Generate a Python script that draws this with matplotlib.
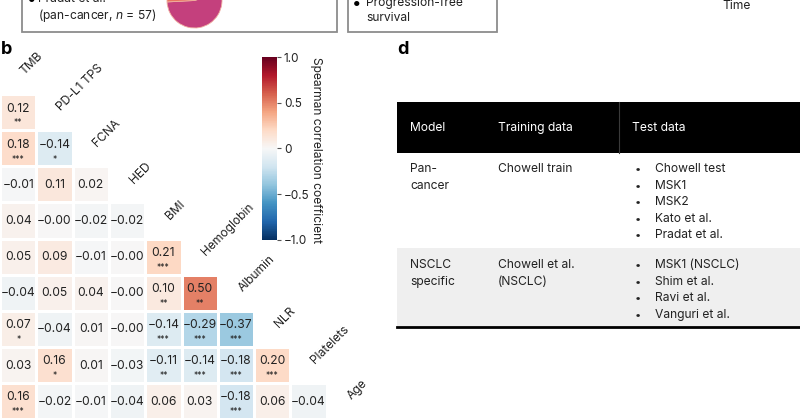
import numpy as np
import matplotlib
matplotlib.use("Agg")
import matplotlib.pyplot as plt
from matplotlib.patches import Rectangle

plt.rcParams['font.family'] = ['Inter', 'DejaVu Sans']
plt.rcParams['mathtext.fontset'] = 'custom'
plt.rcParams['mathtext.rm'] = 'Inter'
plt.rcParams['mathtext.it'] = 'Inter:italic'

# ---------------- data ----------------
variables = ["TMB", "PD-L1 TPS", "FCNA", "HED", "BMI", "Hemoglobin",
             "Albumin", "NLR", "Platelets", "Age"]
rho_rows = [
    [0.12],
    [0.18, -0.14],
    [-0.01, 0.11, 0.02],
    [0.04, -0.00, -0.02, -0.02],
    [0.05, 0.09, -0.01, -0.00, 0.21],
    [-0.04, 0.05, 0.04, -0.00, 0.10, 0.50],
    [0.07, -0.04, 0.01, -0.00, -0.14, -0.29, -0.37],
    [0.03, 0.16, 0.01, -0.03, -0.11, -0.14, -0.18, 0.20],
    [0.16, -0.02, -0.01, -0.04, 0.06, 0.03, -0.18, 0.06, -0.04],
]
stars_rows = [
    ["**"],
    ["***", "*"],
    ["", "", ""],
    ["", "", "", ""],
    ["", "", "", "", "***"],
    ["", "", "", "", "**", "**"],
    ["*", "", "", "", "***", "***", "***"],
    ["", "*", "", "", "**", "***", "***", "***"],
    ["***", "", "", "", "", "", "***", "", ""],
]
cbar_ticks = [-1.0, -0.5, 0.0, 0.5, 1.0]
cbar_ticklabels = ["\u22121.0", "\u22120.5", "0", "0.5", "1.0"]

table_header = ["Model", "Training data", "Test data"]
table_models = ["Pan-\ncancer", "NSCLC\nspecific"]
table_training = ["Chowell train", "Chowell et al.\n(NSCLC)"]
table_tests = [["Chowell test", "MSK1", "MSK2", "Kato et al.", "Pradat et al."],
               ["MSK1 (NSCLC)", "Shim et al.", "Ravi et al.", "Vanguri et al."]]

pie_shares = [54, 46]
pie_colors = ["#c4407d", "#e8755f"]

# ---------------- figure ----------------
W, H = 800, 419
fig = plt.figure(figsize=(W / 100, H / 100), dpi=100)

def fx(px):
    return px / W

def fy(py):
    return 1 - py / H

# heatmap
n = len(variables)
M = np.full((n, n), np.nan)
for r in range(1, n):
    for c, v in enumerate(rho_rows[r - 1]):
        M[r, c] = v

hx0, hy0, cw, ch = 0.0, 58.0, 36.3, 36.1
ax = fig.add_axes([fx(hx0), fy(hy0 + n * ch), fx(n * cw), (n * ch) / H])
mesh = ax.pcolormesh(np.ma.masked_invalid(M), cmap="RdBu_r", vmin=-1, vmax=1,
                     edgecolors="white", linewidth=1.0)
ax.set_xlim(0, n)
ax.set_ylim(n, 0)
ax.axis("off")

for r in range(1, n):
    for c, v in enumerate(rho_rows[r - 1]):
        s = f"{v:.2f}".replace("-", "\u2212")
        st = stars_rows[r - 1][c]
        if st:
            ax.text(c + 0.5, r + 0.40, s, ha="center", va="center",
                    fontsize=8.7, color="#222222")
            ax.text(c + 0.5, r + 0.80, st, ha="center", va="center",
                    fontsize=6, color="#222222")
        else:
            ax.text(c + 0.5, r + 0.52, s, ha="center", va="center",
                    fontsize=8.7, color="#222222")

for k, name in enumerate(variables):
    ax.text(k + 0.62, k + 0.42, name, rotation=45, rotation_mode="anchor",
            ha="left", va="center", fontsize=8.7, color="#222222")

# colorbar
cax = fig.add_axes([fx(262), fy(240), fx(15), (240 - 57) / H])
cb = fig.colorbar(mesh, cax=cax, ticks=cbar_ticks)
cb.set_ticklabels(cbar_ticklabels)
cb.outline.set_visible(False)
cax.tick_params(labelsize=8.5, length=3, width=0.8, color="#555555",
                labelcolor="#222222", pad=2)

# overlay
ov = fig.add_axes([0, 0, 1, 1], facecolor="none")
ov.set_xlim(0, W)
ov.set_ylim(H, 0)
ov.axis("off")

ov.text(316, 150, "Spearman correlation coefficient", rotation=270,
        ha="center", va="center", fontsize=8.7, color="#222222")

# panel labels
ov.text(1, 49, "b", fontsize=13, fontweight="bold", ha="left", va="center")
ov.text(397, 49, "d", fontsize=13, fontweight="bold", ha="left", va="center")

# top remnants (boxes from panel above)
ov.add_patch(Rectangle((22, -60), 315, 92, fill=False, ec="#8c8c8c", lw=1.3))
ov.add_patch(Rectangle((348, -60), 149, 92, fill=False, ec="#8c8c8c", lw=1.3))
ov.text(27, -1, "\u2022", fontsize=12, ha="left", va="center")
ov.text(38, -1, "Pradat et al.", fontsize=8.7, ha="left", va="center", color="#222222")
ov.text(38, 15, "(pan-cancer, $n$ = 57)", fontsize=8.7, ha="left", va="center",
        color="#222222")
ov.text(352, 3, "\u2022", fontsize=12, ha="left", va="center")
ov.text(366, 3, "Progression-free", fontsize=8.7, ha="left", va="center", color="#222222")
ov.text(366, 18, "survival", fontsize=8.7, ha="left", va="center", color="#222222")
ov.text(737, 6, "Time", fontsize=8.7, ha="center", va="center", color="#222222")

pax = fig.add_axes([fx(194.5 - 27.5), fy(0.5 + 27.5), fx(55), 55 / H])
pax.pie(pie_shares, colors=pie_colors, startangle=183, counterclock=True,
        wedgeprops=dict(edgecolor="#f0b0a0", linewidth=0.6))
pax.set_xlim(-1.0, 1.0)
pax.set_ylim(-1.0, 1.0)
pax.set_aspect("equal")

# table (panel d)
tx0, tx1 = 397, 800
ov.add_patch(Rectangle((tx0, 102), tx1 - tx0, 51, color="black", lw=0))
ov.plot([619, 619], [102, 153], color="#3a3a3a", lw=0.8)
col_x = [410, 498, 632]
for x, h in zip(col_x, table_header):
    ov.text(x, 128, h, color="white", fontsize=8.7, ha="left", va="center")

row_tops = [169, 265]
row_bg = [None, "#efefef"]
row_spans = [(153, 248), (248, 326)]
line_h = 16.6
for i in range(len(table_models)):
    if row_bg[i]:
        y0, y1 = row_spans[i]
        ov.add_patch(Rectangle((tx0, y0), tx1 - tx0, y1 - y0, color=row_bg[i], lw=0))
    yt = row_tops[i]
    for j, line in enumerate(table_models[i].split("\n")):
        ov.text(col_x[0], yt + j * line_h, line, fontsize=8.7, ha="left",
                va="center", color="#222222")
    for j, line in enumerate(table_training[i].split("\n")):
        ov.text(col_x[1], yt + j * line_h, line, fontsize=8.7, ha="left",
                va="center", color="#222222")
    for j, item in enumerate(table_tests[i]):
        ov.text(638, yt + j * line_h, "\u2022", fontsize=8, ha="center",
                va="center", color="#222222")
        ov.text(655, yt + j * line_h, item, fontsize=8.7, ha="left",
                va="center", color="#222222")
ov.plot([tx0, tx1], [327, 327], color="black", lw=2)

fig.savefig("out.png", dpi=100)
